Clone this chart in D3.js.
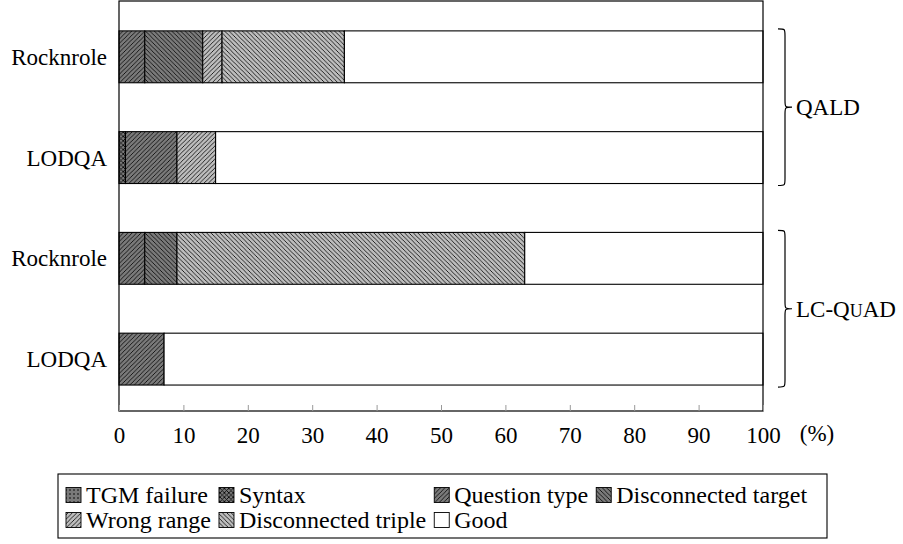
<!DOCTYPE html>
<html>
<head>
<meta charset="utf-8">
<script src="https://cdn.jsdelivr.net/npm/d3@7"></script>
<style>
  body { margin: 0; background: #fff; }
  svg { display: block; }
  text { font-family: "Liberation Serif", "DejaVu Serif", serif; fill: #000; }
</style>
</head>
<body>
<svg id="chart" width="903" height="544"></svg>
<script>
// ---- data ----
const categories = ["Rocknrole", "LODQA", "Rocknrole", "LODQA"];
const groups = ["QALD", "LC-QuAD"];
const groupMembers = [[0, 1], [2, 3]];
const seriesNames = ["TGM failure", "Syntax", "Question type", "Disconnected target", "Wrong range", "Disconnected triple", "Good"];
const tgmFailure = [0, 0, 0, 0];
const syntax = [0, 1, 0, 0];
const questionType = [4, 8, 4, 7];
const disconnectedTarget = [9, 0, 5, 0];
const wrongRange = [3, 6, 0, 0];
const disconnectedTriple = [19, 0, 54, 0];
const good = [65, 85, 37, 93];
const xTicks = [0, 10, 20, 30, 40, 50, 60, 70, 80, 90, 100];

const seriesValues = [tgmFailure, syntax, questionType, disconnectedTarget, wrongRange, disconnectedTriple, good];
const table = categories.map((c, i) => {
  const row = { idx: i, cat: c };
  seriesNames.forEach((s, k) => row[s] = seriesValues[k][i]);
  return row;
});

// ---- layout ----
const svg = d3.select("#chart");
const FONT = 23;
const LFONT = 24;
const plot = { left: 119, right: 763, top: 1, bottom: 411 };
const x = d3.scaleLinear().domain([0, 100]).range([plot.left, plot.right]);
const y = d3.scaleLinear().domain([-0.554, 3.515]).range([plot.top, plot.bottom]);
const barHalf = 0.2574;

// ---- patterns ----
const defs = svg.append("defs");
const DARK = "#7a7a7a", LIGHT = "#bdbdbd";
const T = 4.4;
function linePattern(id, bg, dir) {
  const p = defs.append("pattern").attr("id", id).attr("patternUnits", "userSpaceOnUse")
    .attr("width", T).attr("height", T);
  p.append("rect").attr("width", T).attr("height", T).attr("fill", bg);
  const segs = [];
  if (dir === "ne" || dir === "cross") segs.push([0, T, T, 0], [-1, 1, 1, -1], [T - 1, T + 1, T + 1, T - 1]);
  if (dir === "nw" || dir === "cross") segs.push([0, 0, T, T], [-1, T - 1, 1, T + 1], [T - 1, -1, T + 1, 1]);
  segs.forEach(s => p.append("line").attr("x1", s[0]).attr("y1", s[1]).attr("x2", s[2]).attr("y2", s[3])
    .attr("stroke", "#000").attr("stroke-width", 0.8));
  return `url(#${id})`;
}
function dotPattern(id, bg) {
  const p = defs.append("pattern").attr("id", id).attr("patternUnits", "userSpaceOnUse")
    .attr("width", 4).attr("height", 4);
  p.append("rect").attr("width", 4).attr("height", 4).attr("fill", bg);
  p.append("circle").attr("cx", 2).attr("cy", 2).attr("r", 0.8).attr("fill", "#000");
  return `url(#${id})`;
}
const fills = {
  "TGM failure": dotPattern("p-tgm", DARK),
  "Syntax": linePattern("p-syn", DARK, "cross"),
  "Question type": linePattern("p-qt", DARK, "ne"),
  "Disconnected target": linePattern("p-dt", DARK, "nw"),
  "Wrong range": linePattern("p-wr", LIGHT, "ne"),
  "Disconnected triple": linePattern("p-dtr", LIGHT, "nw"),
  "Good": "#ffffff"
};

// ---- bars ----
const stacked = d3.stack().keys(seriesNames)(table);
const gBars = svg.append("g");
stacked.forEach(layer => {
  gBars.selectAll(null).data(layer.filter(d => d[1] - d[0] > 0)).enter().append("rect")
    .attr("x", d => x(d[0]))
    .attr("width", d => x(d[1]) - x(d[0]))
    .attr("y", d => y(d.data.idx - barHalf))
    .attr("height", d => y(d.data.idx + barHalf) - y(d.data.idx - barHalf))
    .attr("fill", fills[layer.key])
    .attr("stroke", "#000").attr("stroke-width", 1.1);
});

// ---- frame ----
svg.append("rect").attr("x", plot.left).attr("y", plot.top)
  .attr("width", plot.right - plot.left).attr("height", plot.bottom - plot.top)
  .attr("fill", "none").attr("stroke", "#000").attr("stroke-width", 1.2);

// ---- x axis ----
const axis = d3.axisBottom(x).tickValues(xTicks).tickSize(-6).tickPadding(16).tickFormat(d3.format("d"));
const gAxis = svg.append("g").attr("transform", `translate(0,${plot.bottom})`).call(axis);
gAxis.select(".domain").remove();
gAxis.selectAll(".tick line").attr("stroke", "#999").attr("stroke-width", 1);
gAxis.selectAll(".tick text").attr("font-size", FONT).attr("font-family", "Liberation Serif").attr("fill", "#000");
svg.append("text").attr("x", 817).attr("y", 441).attr("text-anchor", "middle")
  .attr("font-size", FONT).text("(%)");

// ---- y labels ----
svg.append("g").selectAll("text").data(categories).enter().append("text")
  .attr("x", 107).attr("y", (d, i) => y(i)).attr("dy", "0.35em")
  .attr("text-anchor", "end").attr("font-size", FONT).text(d => d);

// ---- braces ----
function bracePath(x0, y0, y1, w) {
  const m = (y0 + y1) / 2, r = 7, xm = x0 + w / 2;
  return `M${x0},${y0} C${xm},${y0} ${xm},${y0} ${xm},${y0 + r} L${xm},${m - r} C${xm},${m} ${xm},${m} ${x0 + w},${m}` +
    ` C${xm},${m} ${xm},${m} ${xm},${m + r} L${xm},${y1 - r} C${xm},${y1} ${xm},${y1} ${x0},${y1}`;
}
groups.forEach((g, gi) => {
  const [a, b] = groupMembers[gi];
  const y0 = y(a - barHalf) - 2, y1 = y(b + barHalf) + 2;
  svg.append("path").attr("d", bracePath(778, y0, y1, 14)).attr("fill", "none")
    .attr("stroke", "#000").attr("stroke-width", 1.2);
  const t = svg.append("text").attr("x", 796).attr("y", (y0 + y1) / 2).attr("dy", "0.35em").attr("font-size", FONT);
  if (g === "LC-QuAD") {
    t.append("tspan").text("LC-Q");
    t.append("tspan").attr("font-size", FONT * 0.78).text("U");
    t.append("tspan").text("AD");
  } else {
    t.text(g);
  }
});

// ---- legend (4 aligned columns) ----
const legendBox = { x: 58, y: 474, w: 769, h: 64 };
svg.append("rect").attr("x", legendBox.x).attr("y", legendBox.y).attr("width", legendBox.w).attr("height", legendBox.h)
  .attr("fill", "#fff").attr("stroke", "#000").attr("stroke-width", 1.1);
const legendRows = [[0, 1, 2, 3], [4, 5, 6]];
const rowY = [495, 520];
const icon = 15, iconGap = 5, colGap = 8;
const measure = svg.append("text").attr("font-size", LFONT).attr("visibility", "hidden");
const widths = seriesNames.map(s => { measure.text(s); return measure.node().getComputedTextLength(); });
measure.remove();
const nCols = 4;
const colW = d3.range(nCols).map(c => d3.max(legendRows, r => r[c] !== undefined ? widths[r[c]] : 0));
const colX = [];
let cx = legendBox.x + 8;
for (let c = 0; c < nCols; c++) { colX.push(cx); cx += icon + iconGap + colW[c] + colGap; }
const gLeg = svg.append("g");
legendRows.forEach((row, ri) => {
  row.forEach((si, ci) => {
    const xx = colX[ci], yy = rowY[ri];
    gLeg.append("rect").attr("x", xx).attr("y", yy - icon / 2).attr("width", icon).attr("height", icon)
      .attr("fill", fills[seriesNames[si]]).attr("stroke", "#000").attr("stroke-width", 0.9);
    gLeg.append("text").attr("x", xx + icon + iconGap).attr("y", yy).attr("dy", "0.35em")
      .attr("font-size", LFONT).text(seriesNames[si]);
  });
});
</script>
</body>
</html>
